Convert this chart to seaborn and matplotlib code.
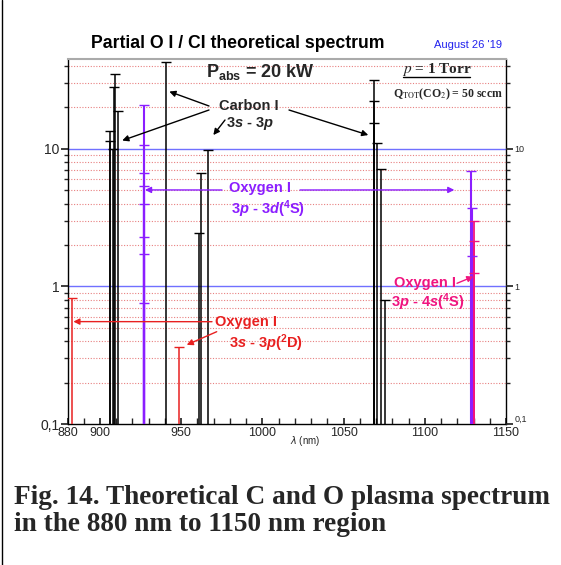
import matplotlib
matplotlib.use('Agg')
import matplotlib.pyplot as plt
import seaborn as sns
import numpy as np
from matplotlib.lines import Line2D

# spectral lines (wavelength in nm, relative intensity)
carbon_wl = [906.1, 906.3, 907.8, 908.9, 909.5, 911.2, 940.6, 960.8, 962.5, 966.5,
             1068.5, 1068.8, 1069.0, 1070.4, 1073.0, 1075.5]
carbon_int = [13.4, 11.5, 10.0, 28.0, 35.0, 18.7, 43.0, 2.45, 6.7, 9.8,
              31.8, 22.4, 15.4, 11.0, 7.1, 0.8]
o3d_wl = [926.9, 926.95, 927.0, 927.05, 927.1, 927.15, 927.2, 927.25, 1128.7, 1128.9, 1129.1]
o3d_int = [20.9, 10.7, 6.7, 5.4, 4.0, 2.3, 1.72, 0.76, 6.95, 3.7, 1.67]
o4s_wl = [1130.3, 1130.4, 1130.5]
o4s_int = [3.0, 2.15, 1.26]
o3p_wl = [882.6, 948.7]
o3p_int = [0.83, 0.36]

x_ticks = [880, 900, 950, 1000, 1050, 1100, 1150]
y_ticks = [0.1, 1, 10]
y_labels = ['0,1', '1', '10']

C_BLACK = '#000000'
C_PURPLE = '#8B1EFF'
C_MAGENTA = '#F0147F'
C_RED = '#E82020'

sns.set_theme(style='white')
plt.rcParams['font.family'] = ['Liberation Sans', 'DejaVu Sans']
plt.rcParams['mathtext.fontset'] = 'custom'
plt.rcParams['mathtext.rm'] = 'Liberation Sans:bold'
plt.rcParams['mathtext.bf'] = 'Liberation Sans:bold'
plt.rcParams['mathtext.it'] = 'Liberation Sans:italic:bold'
plt.rcParams['mathtext.bfit'] = 'Liberation Sans:italic:bold'

W, H = 561, 565
fig = plt.figure(figsize=(W / 100, H / 100), dpi=100)
fig.patch.set_facecolor('white')
ax = fig.add_axes([67.5 / W, 1 - 424 / H, (506 - 67.5) / W, (424 - 59) / H])
ax.set_yscale('log')
ax.set_xlim(880, 1150)
ax.set_ylim(0.1, 45)

# grid: dotted red minor lines, blue decade lines
for dec in [0.1, 1, 10]:
    for m in range(2, 10):
        v = dec * m
        if v < 45:
            ax.axhline(v, color='#E88080', lw=0.8, ls=(0, (1, 1.5)), zorder=1)
for v in [1, 10]:
    ax.axhline(v, color='#7070FF', lw=1.0, zorder=1)

groups = [(carbon_wl, carbon_int, C_BLACK, 1.1), (o3d_wl, o3d_int, C_PURPLE, 1.5),
          (o4s_wl, o4s_int, C_MAGENTA, 1.3), (o3p_wl, o3p_int, C_RED, 1.1)]
for wl, val, col, lw in groups:
    ax.vlines(wl, 0.1, val, color=col, lw=lw, zorder=3)
    sns.scatterplot(x=wl, y=val, marker='_', s=60, color=col, linewidth=1.0,
                    ax=ax, zorder=4, legend=False)

# axes styling
for s in ['left', 'bottom', 'right']:
    ax.spines[s].set_color('black')
    ax.spines[s].set_linewidth(1.0)
ax.spines['top'].set_color('#aaaaaa')
ax.spines['top'].set_linewidth(1.5)
ax.set_xticks(x_ticks)
ax.set_xticklabels([str(t) for t in x_ticks], fontsize=9)
ax.set_xticks(np.arange(880, 1151, 10), minor=True)
ax.set_yticks(y_ticks, labels=y_labels, fontsize=10)
ax.tick_params(axis='x', which='both', direction='in', length=4, pad=2, bottom=True)
ax.tick_params(axis='y', which='major', direction='out', length=5, pad=1, left=True)
ax.tick_params(axis='y', which='minor', direction='out', length=3, left=True)
ax.set_xlabel('')
ax.set_ylabel('')

ax2 = ax.twinx()
ax2.set_yscale('log')
ax2.set_ylim(0.1, 45)
ax2.set_yticks(y_ticks, labels=y_labels, fontsize=6.5)
ax2.tick_params(axis='y', which='major', direction='out', length=5, pad=1, right=True)
ax2.tick_params(axis='y', which='minor', direction='out', length=3, right=True)
ax2.get_yticklabels()[0].set_va('bottom')
for s in ax2.spines.values():
    s.set_visible(False)
ax2.grid(False)
ax.grid(False)


def fp(px, py):
    return (px / W, 1 - py / H)


# texts
fig.text(*fp(238, 43), 'Partial O I / CI theoretical spectrum', ha='center', va='center',
         fontsize=12.7, fontweight='bold', color='black')
fig.text(*fp(468, 45), "August 26 '19", ha='center', va='center', fontsize=8, color='#2222EE')
fig.text(*fp(260, 72), r'P$_{\mathrm{abs}}$ = 20 kW', ha='center', va='center',
         fontsize=13, fontweight='bold')
fig.text(*fp(436.5, 70), r'$\mathbf{\mathit{p}}$ = 1 Torr', ha='center', va='center',
         fontsize=11, fontweight='bold', family='Liberation Serif', math_fontfamily='stix')
fig.add_artist(Line2D([403 / W, 470 / W], [1 - 76.5 / H, 1 - 76.5 / H], color='black', lw=1))
fig.text(*fp(447.5, 94), r'Q$_{\mathrm{TOT}}$(CO$_2$) = 50 sccm', ha='center', va='center',
         fontsize=8.5, fontweight='bold', family='Liberation Serif', math_fontfamily='stix')

fs = 10.5
fig.text(*fp(249, 106), 'Carbon I', ha='center', va='center', fontsize=fs, fontweight='bold')
fig.text(*fp(250, 124), r'3$\mathbfit{s}$ - 3$\mathbfit{p}$', ha='center', va='center',
         fontsize=fs, fontweight='bold')
fig.text(*fp(260, 188), 'Oxygen I', ha='center', va='center', fontsize=fs,
         fontweight='bold', color=C_PURPLE)
fig.text(*fp(268, 209), r'3$\mathbfit{p}$ - 3$\mathbfit{d}$($^{4}$S)', ha='center', va='center',
         fontsize=fs, fontweight='bold', color=C_PURPLE)
fig.text(*fp(425, 283), 'Oxygen I', ha='center', va='center', fontsize=fs,
         fontweight='bold', color=C_MAGENTA)
fig.text(*fp(428, 302), r'3$\mathbfit{p}$ - 4$\mathbfit{s}$($^{4}$S)', ha='center', va='center',
         fontsize=fs, fontweight='bold', color=C_MAGENTA)
fig.text(*fp(246, 322), 'Oxygen I', ha='center', va='center', fontsize=fs,
         fontweight='bold', color=C_RED)
fig.text(*fp(266, 343), r'3$\mathbfit{s}$ - 3$\mathbfit{p}$($^{2}$D)', ha='center', va='center',
         fontsize=fs, fontweight='bold', color=C_RED)
fig.text(*fp(305, 441), r'$\lambda$ (nm)', ha='center', va='center', fontsize=7,
         math_fontfamily='dejavusans')

# arrows: (head in data coords, tail in pixels, colour)
arrows = [((942.7, 26.1), (209.0, 106.0), C_BLACK),
          ((913.7, 11.5), (209.0, 110.0), C_BLACK),
          ((969.8, 12.6), (225.0, 120.0), C_BLACK),
          ((1065.2, 12.6), (289.0, 110.0), C_BLACK),
          ((927.7, 5.03), (222.0, 190.0), C_PURPLE),
          ((1118.2, 5.03), (300.0, 190.0), C_PURPLE),
          ((1129.9, 1.18), (457.0, 283.3), C_MAGENTA),
          ((883.6, 0.555), (212.0, 321.7), C_RED),
          ((953.4, 0.376), (216.7, 331.7), C_RED)]
for head, tail, col in arrows:
    ax.annotate('', xy=head, xycoords='data', xytext=(tail[0], H - tail[1]),
                textcoords='figure pixels',
                arrowprops=dict(arrowstyle='-|>', color=col, lw=1.0, mutation_scale=9,
                                shrinkA=0, shrinkB=0), zorder=5)

# caption
fig.text(14 / W, 1 - 504 / H, 'Fig. 14. Theoretical C and O plasma spectrum', ha='left',
         va='baseline', fontsize=19.6, fontweight='bold', family='Liberation Serif')
fig.text(14 / W, 1 - 531 / H, 'in the 880 nm to 1150 nm region', ha='left',
         va='baseline', fontsize=19.6, fontweight='bold', family='Liberation Serif')
fig.add_artist(Line2D([2 / W, 2 / W], [0, 1], color='black', lw=1))

fig.savefig('out.png', dpi=100)
plt.close(fig)
